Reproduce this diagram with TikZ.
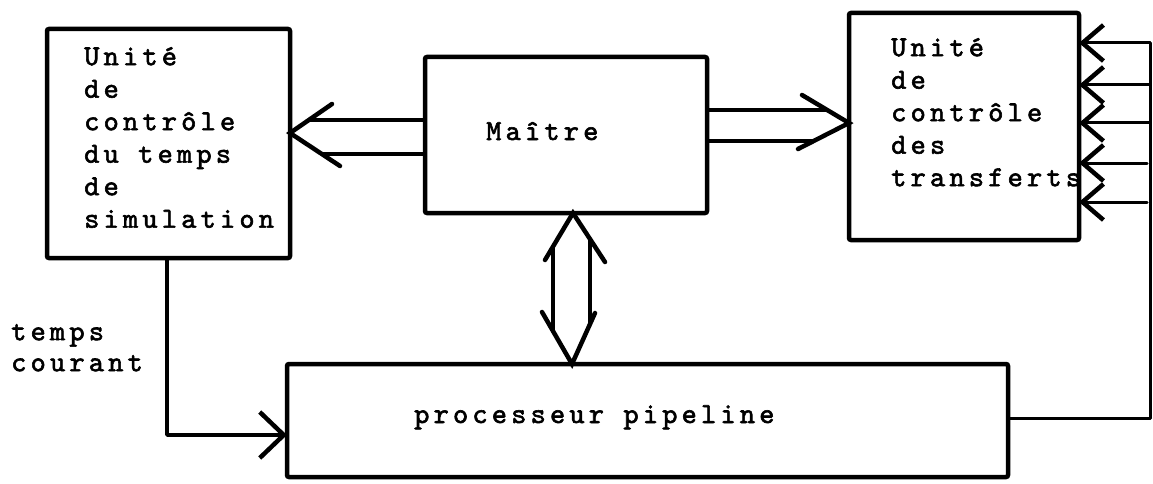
\documentclass[tikz,border=0pt]{standalone}
\usepackage{fontspec}
\newfontfamily\typew{lmmono10-regular}[Extension=.otf, LetterSpace=14.4, FakeBold=2]
\usetikzlibrary{arrows.meta}
\begin{document}
\begin{tikzpicture}[x=1pt,y=-1pt,
  box/.style={draw, line width=4.5pt, rounded corners=2pt, outer sep=0pt, inner sep=0pt},
  conn/.style={line width=3.5pt, line cap=round, line join=round},
  chev/.style={line width=4.5pt, line cap=round, line join=miter},
  barb/.style={-{Straight Barb[length=21pt,width=36pt,line width=4.5pt]}},
  bigbarb/.style={-{Straight Barb[length=24pt,width=46pt,line width=4.5pt]}},
  txt/.style={inner sep=0pt, align=left,
    font={\typew\fontsize{29}{32.5}\selectfont}}]
\useasboundingbox (0,0) rectangle (1153,484);
\fill[white] (0,0) rectangle (1153,484);
% boxes
\node[box, minimum width=243pt, minimum height=229pt] (LB) at (168.5,143.5) {};
\node[box, minimum width=282pt, minimum height=156pt] (M) at (566,135) {};
\node[box, minimum width=230pt, minimum height=227pt] (R) at (964,126.5) {};
\node[box, minimum width=721pt, minimum height=113pt] (P) at (647.5,420.5) {};
% texts
\node[txt, anchor=north west] (tLB) at (84,44) {\rule{0pt}{21pt}Unité\\de\\contrôle\\du temps\\de\\simulation};
\node[txt, anchor=north west] (tR) at (891,35) {\rule{0pt}{21pt}Unité\\de\\contrôle\\des\\transferts};
\node[txt, anchor=north west, font={\typew\fontsize{29}{31}\selectfont}] (tTC) at (11,319) {\rule{0pt}{21pt}temps\\courant};
\node[txt, anchor=base west] (tM) at (486,140) {Maître};
\node[txt, anchor=base west] (tP) at (414,423) {processeur pipeline};
% Maitre -> left box (double arrow)
\draw[conn] (M.west |- 0,120) -- (310,120);
\draw[conn] (M.west |- 0,154) -- (322,154);
\draw[chev] (332,104) -- (LB.east |- 0,133) -- (340,166);
% Maitre -> right box
\draw[conn] (M.east |- 0,110) -- (827,110);
\draw[conn] (M.east |- 0,141) -- (814,141);
\draw[chev] (802,95) -- (R.west |- 0,123) -- (798,149);
% Maitre <-> processeur
\draw[conn] (553,247) -- (553,331);
\draw[conn] (590,239) -- (590,324);
\draw[chev] (545,260) -- (573,0 |- M.south) -- (605,262);
\draw[chev] (542,312) -- (572,0 |- P.north) -- (595,313);
% temps courant
\draw[conn, bigbarb] (LB.south -| 167,0) -- (167,435) -- (P.west |- 0,435);
% feedback from pipeline to transfer control unit
\coordinate (c0) at (1150,418);
\coordinate (c1) at (1150,43);
\coordinate (c2) at (1150,85);
\coordinate (c3) at (1150,123);
\coordinate (c4) at (1147,163);
\coordinate (c5) at (1147,202);
\draw[conn, line width=3pt] (P.east |- c0) -- (c0) -- (c1);
\draw[conn, line width=3pt, barb] (c1) -- (R.east |- c1);
\draw[conn, line width=3pt, barb] (c2) -- (R.east |- c2);
\draw[conn, line width=3pt, barb] (c3) -- (R.east |- c3);
\draw[conn, line width=3pt, barb] (c4) -- (R.east |- c4);
\draw[conn, line width=3pt, barb] (c5) -- (R.east |- c5);
\end{tikzpicture}
\end{document}
